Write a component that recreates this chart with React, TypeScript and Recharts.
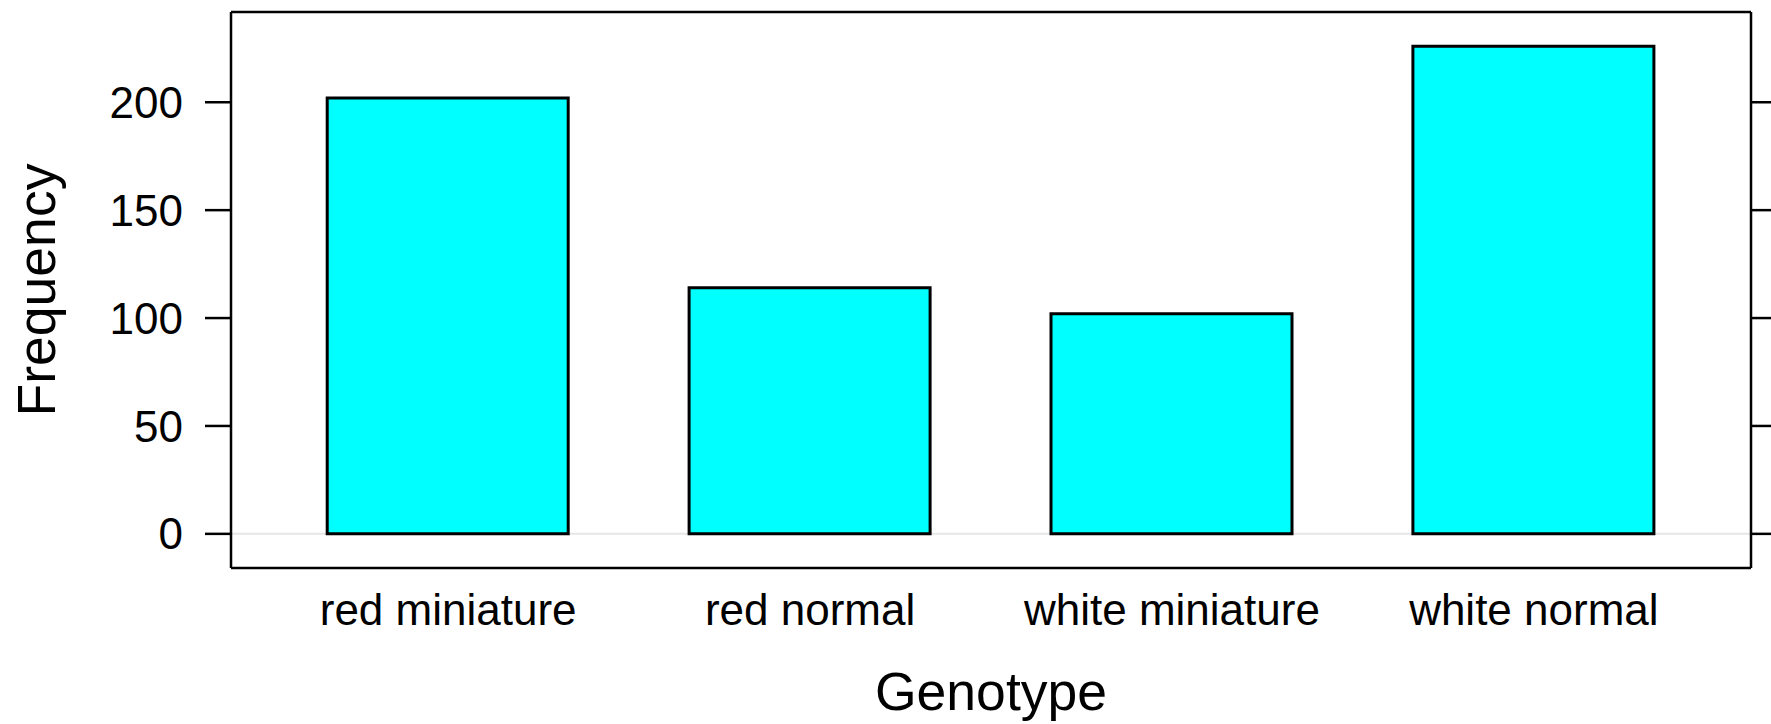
import React from "react";
import { BarChart, Bar, XAxis, YAxis, ReferenceLine, CartesianGrid } from "recharts";

const categories = ["red miniature", "red normal", "white miniature", "white normal"];
const frequencies = [202, 114, 102, 226];
const yTicks = [0, 50, 100, 150, 200];
const yDomain: [number, number] = [-15.82, 241.82];
const baselineValues = [0];

const data = categories.map((name, i) => ({ name, value: frequencies[i] }));

const FONT = "'Liberation Sans', Arial, Helvetica, sans-serif";

const XTick = (props: any) => {
  const { x, y, payload } = props;
  return (
    <text x={x} y={y + 57} textAnchor="middle" fontSize={44} fontFamily={FONT} fill="#000">
      {payload.value}
    </text>
  );
};

const XTitle = (props: any) => {
  const vb = props.viewBox || {};
  return (
    <text x={vb.x + vb.width / 2} y={vb.y + 142} textAnchor="middle" fontSize={53.5} fontFamily={FONT} fill="#000">
      Genotype
    </text>
  );
};

const YTitle = (props: any) => {
  const vb = props.viewBox || {};
  const cx = 55;
  const cy = vb.y + vb.height / 2;
  return (
    <text x={cx} y={cy} textAnchor="middle" fontSize={53.5} fontFamily={FONT} fill="#000" transform={`rotate(-90, ${cx}, ${cy})`}>
      Frequency
    </text>
  );
};

export default function App() {
  return (
    <div style={{ position: "absolute", left: 0, top: 0, width: 1771, height: 724, background: "#fff" }}>
      <BarChart
        width={1771}
        height={724}
        data={data}
        margin={{ top: 12, right: 0, bottom: 0, left: 0 }}
        barSize={241}
      >
        <CartesianGrid
          vertical={false}
          horizontal
          horizontalValues={baselineValues}
          stroke="#e6e6e6"
          strokeWidth={2}
        />
        <XAxis
          dataKey="name"
          height={156}
          padding={{ left: 36.2, right: 36.2 }}
          tickLine={false}
          tickSize={0}
          tickMargin={0}
          interval={0}
          tick={<XTick />}
          axisLine={{ stroke: "#000", strokeWidth: 2.5 }}
          label={<XTitle />}
        />
        <YAxis
          width={231}
          domain={yDomain}
          ticks={yTicks}
          allowDataOverflow
          type="number"
          tickSize={26}
          tickMargin={22}
          tickLine={{ stroke: "#000", strokeWidth: 2.5 }}
          axisLine={{ stroke: "#000", strokeWidth: 2.5 }}
          tick={{ fontSize: 44, fill: "#000", fontFamily: FONT }}
          label={<YTitle />}
        />
        <YAxis
          yAxisId="right"
          orientation="right"
          width={20}
          domain={yDomain}
          ticks={yTicks}
          allowDataOverflow
          type="number"
          tickSize={20}
          tickLine={{ stroke: "#000", strokeWidth: 2.5 }}
          axisLine={{ stroke: "#000", strokeWidth: 2.5 }}
          tick={() => null}
        />
        <ReferenceLine y={yDomain[1]} stroke="#000" strokeWidth={2.5} />
        <Bar dataKey="value" fill="#00FFFF" stroke="#000" strokeWidth={3} isAnimationActive={false} />
      </BarChart>
    </div>
  );
}
